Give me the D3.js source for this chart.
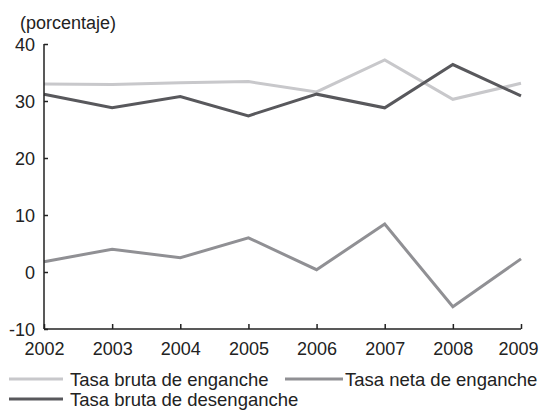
<!DOCTYPE html>
<html><head><meta charset="utf-8">
<script src="https://cdn.jsdelivr.net/npm/d3@7"></script>
<style>body{margin:0;background:#fff}svg{display:block}text{font-family:"Liberation Sans",Arial,sans-serif;fill:#222}</style>
</head><body><svg id="c" width="539" height="410"></svg>
<script>
const years = [2002,2003,2004,2005,2006,2007,2008,2009];
const brutaEnganche = [33.0,32.9,33.2,33.4,31.6,37.2,30.3,33.1];
const netaEnganche = [1.8,4.0,2.5,6.0,0.4,8.4,-6.1,2.3];
const brutaDesenganche = [31.2,28.8,30.8,27.4,31.2,28.8,36.4,30.9];
const yTicks = [-10,0,10,20,30,40];
const seriesNames = ["Tasa bruta de enganche","Tasa neta de enganche","Tasa bruta de desenganche"];
const colors = ["#c8c8cb","#909094","#58585c"];

const svg = d3.select("#c");
const x = d3.scaleLinear().domain([2002,2009]).range([44,521]);
const y = d3.scaleLinear().domain([-10,40]).range([329,44]);

const series = [brutaEnganche, netaEnganche, brutaDesenganche];
const line = d3.line().x((d,i)=>x(years[i])).y(d=>y(d));
series.forEach((s,k)=>{
  svg.append("path").datum(s).attr("d",line).attr("fill","none")
    .attr("stroke",colors[k]).attr("stroke-width",3).attr("stroke-linejoin","miter");
});

const yAxis = svg.append("g").attr("transform","translate(44,0)")
  .call(d3.axisRight(y).tickValues(yTicks).tickSize(4).tickFormat(d3.format("d")));
yAxis.select(".domain").attr("d","M0,44V329").attr("stroke","#222").attr("stroke-width",1.5);
yAxis.selectAll(".tick line").attr("stroke","#222").attr("stroke-width",1.5);
yAxis.selectAll(".tick text").attr("x",-9).attr("text-anchor","end").attr("font-size",18).attr("fill","#222")
  .attr("dy","0.36em").text(d=>d);

const xAxis = svg.append("g").attr("transform","translate(0,329)")
  .call(d3.axisTop(x).tickValues(years).tickSize(5).tickFormat(d3.format("d")));
xAxis.select(".domain").attr("d","M44,0H521").attr("stroke","#222").attr("stroke-width",1.5);
xAxis.selectAll(".tick line").attr("stroke","#222").attr("stroke-width",1.5);
xAxis.selectAll(".tick text").attr("y",26).attr("dy",0).attr("font-size",18).attr("fill","#222")
  .attr("dx",(d,i,n)=> i===n.length-1 ? -3 : 0);

svg.append("text").attr("x",20).attr("y",29).attr("font-size",18).text("(porcentaje)");

const legend = [
  {x1:9,x2:63,ty:386,ly:379,tx:70},
  {x1:285,x2:343,ty:386,ly:379,tx:345},
  {x1:9,x2:63,ty:406,ly:399,tx:70}
];
legend.forEach((l,k)=>{
  svg.append("line").attr("x1",l.x1).attr("x2",l.x2).attr("y1",l.ly).attr("y2",l.ly)
    .attr("stroke",colors[k]).attr("stroke-width",3);
  svg.append("text").attr("x",l.tx).attr("y",l.ty).attr("font-size",18.5).text(seriesNames[k]);
});
</script></body></html>
